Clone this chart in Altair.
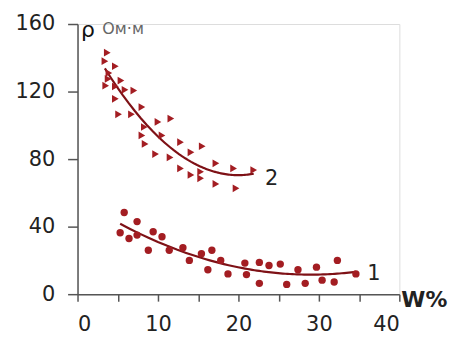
import altair as alt
import pandas as pd

# Series 1 (circles)
w1 = [5.8, 5.3, 6.4, 7.4, 7.4, 8.8, 9.4, 10.5, 11.4, 13.1, 13.9, 15.4, 16.7, 16.2,
      17.8, 18.7, 20.8, 21.0, 22.6, 22.6, 23.8, 25.2, 26.0, 27.4, 28.3, 29.7, 30.4,
      31.9, 32.3, 34.6]
r1 = [48.4, 36.4, 33.0, 43.0, 35.0, 26.0, 37.0, 34.0, 26.0, 27.5, 20.0, 24.0, 26.0, 14.5,
      20.0, 12.0, 18.4, 11.6, 18.8, 6.4, 17.0, 17.8, 5.8, 14.5, 6.4, 16.0, 8.3,
      7.2, 20.0, 12.0]

# Series 2 (triangles)
w2 = [3.7, 3.4, 4.7, 3.9, 3.8, 5.4, 3.5, 4.7, 5.9, 7.0, 4.7, 8.0, 5.1, 6.7, 10.0, 11.6,
      8.3, 8.0, 10.5, 8.4, 12.8, 15.5, 9.7, 11.5, 14.1, 12.8, 14.1, 15.3, 15.3, 17.2,
      17.2, 19.4, 19.7, 21.9]
r2 = [143, 138, 135, 131, 127.5, 126.5, 123.5, 123, 121, 120.6, 115.7, 110.8, 106.5, 106.5,
      102, 104, 99, 94, 94, 89, 90, 87.6, 83, 81, 84, 74.5, 70.6, 68.6, 72.5, 77.5,
      65.3, 74.5, 62.7, 73.5]

series_names = ["1", "2"]
label_x = [36.0, 23.3]
label_y = [12.0, 68.0]

x_ticks = [0, 5, 10, 15, 20, 25, 30, 35, 40]
y_ticks = [0, 20, 40, 60, 80, 100, 120, 140, 160]

df = pd.DataFrame({
    "w": w1 + w2,
    "rho": r1 + r2,
    "s": ["1"] * len(w1) + ["2"] * len(w2),
})
lab = pd.DataFrame({"w": label_x, "rho": label_y, "t": series_names})

RED = "#a31d22"
LINE = "#7e1116"
FONT = "DejaVu Sans"

xs = alt.Scale(domain=[0, 40], nice=False)
ys = alt.Scale(domain=[0, 160], nice=False)

x_axis = alt.Axis(values=x_ticks, labelExpr="datum.value % 10 == 0 ? datum.label : ''",
                  title=None, grid=False, tickSize=7, labelPadding=13,
                  labelFontSize=21, labelFont=FONT, labelColor="#222",
                  domainColor="#555", tickColor="#555", domainWidth=1.5, tickWidth=1.5)
y_axis = alt.Axis(values=y_ticks, labelExpr="datum.value % 40 == 0 ? datum.label : ''",
                  title=None, grid=False, tickSize=10, labelPadding=13,
                  labelFontSize=21, labelFont=FONT, labelColor="#222",
                  domainColor="#555", tickColor="#555", domainWidth=1.5, tickWidth=1.5)

base = alt.Chart(df)

pts1 = base.transform_filter("datum.s == '1'").mark_point(
    shape="circle", filled=True, size=55, color=RED, opacity=1
).encode(x=alt.X("w:Q", scale=xs, axis=x_axis), y=alt.Y("rho:Q", scale=ys, axis=y_axis))

pts2 = base.transform_filter("datum.s == '2'").mark_point(
    shape="triangle-right", filled=True, size=60, color=RED, opacity=1
).encode(x=alt.X("w:Q", scale=xs), y=alt.Y("rho:Q", scale=ys))

trend = base.transform_regression("w", "rho", method="poly", order=2, groupby=["s"]).mark_line(
    color=LINE, strokeWidth=2.2
).encode(x=alt.X("w:Q", scale=xs), y=alt.Y("rho:Q", scale=ys), detail="s:N")

labels = alt.Chart(lab).mark_text(align="left", baseline="middle", fontSize=21,
                                  font=FONT, color="#222").encode(
    x=alt.X("w:Q", scale=xs), y=alt.Y("rho:Q", scale=ys), text="t:N")

rho_t = alt.Chart(lab).transform_filter("datum.t == '1'").mark_text(
    align="left", baseline="alphabetic", fontSize=22, font=FONT, color="#111", text="ρ"
).encode(x=alt.value(3.5), y=alt.value(13))

unit_t = alt.Chart(lab).transform_filter("datum.t == '1'").mark_text(
    align="left", baseline="alphabetic", fontSize=16, font=FONT, color="#666", text="Ом·м"
).encode(x=alt.value(25), y=alt.value(10))

w_t = alt.Chart(lab).transform_filter("datum.t == '1'").mark_text(
    align="left", baseline="middle", fontSize=22, fontWeight="bold", font=FONT,
    color="#222", text="W%"
).encode(x=alt.value(326), y=alt.value(278))

chart = alt.layer(trend, pts1, pts2, labels, rho_t, unit_t, w_t).properties(
    width=324, height=272,
    autosize=alt.AutoSizeParams(type="none"),
    padding={"left": 70, "top": 15, "right": 50, "bottom": 43},
).configure_view(stroke=None).configure(background="white")

chart.save("out.html", embed_options={"renderer": "svg", "actions": False})
